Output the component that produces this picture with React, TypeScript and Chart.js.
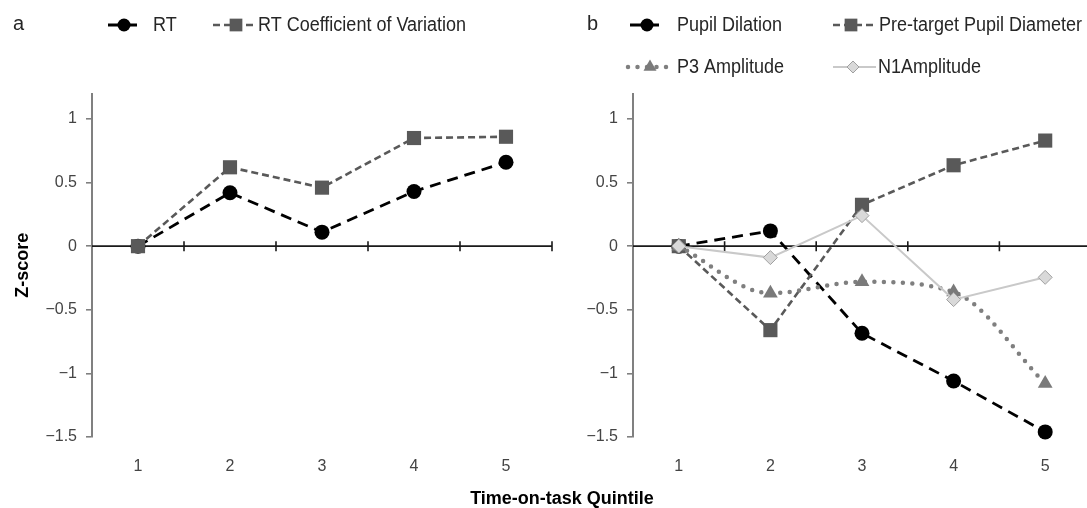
import React, { useEffect, useRef } from 'react';
import { Chart, registerables } from 'chart.js';

Chart.register(...registerables);

// ---------- data ----------
const quintiles = ['1', '2', '3', '4', '5'];
const yTicks = [-1.5, -1, -0.5, 0, 0.5, 1];
const yMin = -1.5;
const yMax = 1.2;

const rt = [0, 0.42, 0.11, 0.43, 0.66];
const rtCV = [0, 0.62, 0.46, 0.85, 0.86];

const pupilDilation = [0, 0.12, -0.685, -1.06, -1.46];
const preTargetDiameter = [0, -0.66, 0.325, 0.636, 0.83];
const p3Amplitude = [0, -0.37, -0.28, -0.36, -1.08];
const n1Amplitude = [0, -0.09, 0.24, -0.42, -0.245];

// ---------- styles ----------
const FONT = "'Liberation Sans', Arial, sans-serif";
const W = 1087;
const H = 508;

function drawMarker(ctx: CanvasRenderingContext2D, style: string, x: number, y: number, r: number, fill: string, stroke: string, bw: number) {
  ctx.save();
  ctx.beginPath();
  ctx.setLineDash([]);
  if (style === 'circle') {
    ctx.arc(x, y, r, 0, Math.PI * 2);
  } else if (style === 'rect') {
    const s = Math.SQRT1_2 * r;
    ctx.rect(x - s, y - s, 2 * s, 2 * s);
  } else if (style === 'triangle') {
    let a = 0;
    ctx.moveTo(x + Math.sin(a) * r, y - Math.cos(a) * r);
    a += (2 * Math.PI) / 3;
    ctx.lineTo(x + Math.sin(a) * r, y - Math.cos(a) * r);
    a += (2 * Math.PI) / 3;
    ctx.lineTo(x + Math.sin(a) * r, y - Math.cos(a) * r);
    ctx.closePath();
  } else if (style === 'rectRot') {
    ctx.moveTo(x - r, y);
    ctx.lineTo(x, y - r);
    ctx.lineTo(x + r, y);
    ctx.lineTo(x, y + r);
    ctx.closePath();
  }
  ctx.fillStyle = fill;
  ctx.fill();
  if (bw > 0) {
    ctx.lineWidth = bw;
    ctx.strokeStyle = stroke;
    ctx.stroke();
  }
  ctx.restore();
}

const zeroAxisPlugin = {
  id: 'zeroAxis',
  beforeDatasetsDraw(chart: any, _args: any, opts: any) {
    const { ctx, chartArea } = chart;
    const xs = chart.scales.x;
    const ys = chart.scales.y;
    const y0 = ys.getPixelForValue(0);
    const n = chart.data.labels.length;
    const half = (xs.getPixelForValue(1) - xs.getPixelForValue(0)) / 2;
    const right = xs.getPixelForValue(n - 1) + half;
    ctx.save();
    ctx.strokeStyle = opts.color;
    ctx.lineWidth = opts.width;
    ctx.beginPath();
    ctx.moveTo(chartArea.left, y0);
    ctx.lineTo(right + 0.75, y0);
    for (let i = 0; i < n; i++) {
      const bx = xs.getPixelForValue(i) + half;
      ctx.moveTo(bx, y0 - opts.tick);
      ctx.lineTo(bx, y0 + opts.tick);
    }
    ctx.stroke();
    ctx.restore();
  },
};

const panelLegendPlugin = {
  id: 'panelLegend',
  afterDraw(chart: any, _args: any, opts: any) {
    const { ctx } = chart;
    ctx.save();
    ctx.textBaseline = 'middle';
    ctx.textAlign = 'left';
    ctx.fillStyle = opts.color;
    ctx.font = opts.letterFont;
    ctx.fillText(opts.letter, opts.letterX, opts.letterY);
    opts.items.forEach((it: any) => {
      const ds = chart.data.datasets[it.index];
      ctx.save();
      ctx.strokeStyle = ds.borderColor;
      ctx.lineWidth = ds.borderWidth;
      ctx.setLineDash(ds.borderDash || []);
      ctx.lineCap = ds.borderCapStyle || 'butt';
      ctx.beginPath();
      ctx.moveTo(it.x0, it.y);
      ctx.lineTo(it.x1, it.y);
      ctx.stroke();
      ctx.restore();
      drawMarker(ctx, ds.pointStyle, it.mx, it.y, it.r, ds.pointBackgroundColor, ds.pointBorderColor, ds.pointBorderWidth);
      ctx.save();
      ctx.fillStyle = opts.color;
      ctx.font = opts.font;
      ctx.translate(it.tx, it.y);
      ctx.scale(opts.textScaleX, 1);
      ctx.fillText(ds.label, 0, 0);
      ctx.restore();
    });
    ctx.restore();
  },
};

const fmt = (v: number) => {
  const s = String(Math.abs(v));
  return v < 0 ? '\u2212' + s : s;
};

const blackDash = (label: string, data: number[]) => ({
  label,
  data,
  borderColor: '#000000',
  borderWidth: 2.8,
  borderDash: [11, 7],
  pointStyle: 'circle',
  pointRadius: 7.5,
  pointBackgroundColor: '#000000',
  pointBorderColor: '#000000',
  pointBorderWidth: 0,
  fill: false,
  tension: 0,
  clip: false,
});

const greySquare = (label: string, data: number[]) => ({
  label,
  data,
  borderColor: '#595959',
  borderWidth: 2.6,
  borderDash: [7, 4],
  pointStyle: 'rect',
  pointRadius: 10,
  pointBackgroundColor: '#595959',
  pointBorderColor: '#595959',
  pointBorderWidth: 0,
  fill: false,
  tension: 0,
  clip: false,
});

function makeConfig(panel: 'a' | 'b', canvasLeft: number, canvasWidth: number, plotLeft: number, plotRight: number) {
  const datasets: any[] =
    panel === 'a'
      ? [
          { ...blackDash('RT', rt), order: 1 },
          { ...greySquare('RT Coefficient of Variation', rtCV), order: 0 },
        ]
      : [
          { ...blackDash('Pupil Dilation', pupilDilation), order: 3 },
          { ...greySquare('Pre-target Pupil Diameter', preTargetDiameter), order: 2 },
          {
            label: 'P3 Amplitude',
            data: p3Amplitude,
            borderColor: '#7f7f7f',
            borderWidth: 4.5,
            borderDash: [0, 9.5],
            borderCapStyle: 'round',
            pointStyle: 'triangle',
            pointRadius: 8.5,
            pointBackgroundColor: '#7a7a7a',
            pointBorderColor: '#7a7a7a',
            pointBorderWidth: 0,
            fill: false,
            cubicInterpolationMode: 'monotone',
            clip: false,
            order: 1,
          },
          {
            label: 'N1Amplitude',
            data: n1Amplitude,
            borderColor: '#c9c9c9',
            borderWidth: 2,
            pointStyle: 'rectRot',
            pointRadius: 7,
            pointBackgroundColor: '#d9d9d9',
            pointBorderColor: '#a0a0a0',
            pointBorderWidth: 1,
            fill: false,
            tension: 0,
            clip: false,
            order: 0,
          },
        ];

  const L = (px: number) => px - canvasLeft;
  const legend =
    panel === 'a'
      ? {
          letter: 'a',
          letterX: L(13),
          letterY: 24,
          items: [
            { index: 0, x0: L(108), x1: L(139), mx: L(124), tx: L(153), y: 25, r: 6.5 },
            { index: 1, x0: L(213), x1: L(256), mx: L(236), tx: L(258), y: 25, r: 9 },
          ],
        }
      : {
          letter: 'b',
          letterX: L(587),
          letterY: 24,
          items: [
            { index: 0, x0: L(630), x1: L(664), mx: L(647), tx: L(677), y: 25, r: 6.5 },
            { index: 1, x0: L(833), x1: L(877), mx: L(851), tx: L(879), y: 25, r: 9 },
            { index: 2, x0: L(628), x1: L(671), mx: L(650), tx: L(677), y: 67, r: 7.5 },
            { index: 3, x0: L(833), x1: L(876), mx: L(853), tx: L(878), y: 67, r: 6 },
          ],
        };

  const yAxisWidth = plotLeft - canvasLeft;
  const padRight = canvasLeft + canvasWidth - plotRight;

  return {
    type: 'line',
    data: { labels: quintiles, datasets },
    plugins: [zeroAxisPlugin, panelLegendPlugin],
    options: {
      responsive: false,
      maintainAspectRatio: false,
      animation: false,
      devicePixelRatio: 1,
      layout: { padding: { top: 93.5, right: padRight, bottom: 0, left: 0 } },
      plugins: {
        legend: { display: false },
        tooltip: { enabled: false },
        title: { display: false },
        zeroAxis: { color: '#1a1a1a', width: 1.6, tick: 5 },
        panelLegend: {
          ...legend,
          color: '#262626',
          font: `20px ${FONT}`,
          textScaleX: 0.9,
          letterFont: `20px ${FONT}`,
        },
      },
      scales: {
        x: {
          type: 'category',
          offset: true,
          position: 'bottom',
          grid: { display: false, drawTicks: false },
          border: { display: false },
          ticks: { color: '#444444', font: { family: FONT, size: 16 }, padding: 20, maxRotation: 0 },
          afterFit: (s: any) => {
            s.height = H - 437;
          },
        },
        y: {
          type: 'linear',
          min: yMin,
          max: yMax,
          afterBuildTicks: (s: any) => {
            s.ticks = yTicks.map((v) => ({ value: v }));
          },
          afterFit: (s: any) => {
            s.width = yAxisWidth;
          },
          grid: { drawOnChartArea: false, drawTicks: true, tickLength: 6, color: '#808080', lineWidth: 1.6 },
          border: { display: true, color: '#808080', width: 2 },
          ticks: {
            color: '#444444',
            font: { family: FONT, size: 16 },
            padding: 9,
            callback: (v: any) => fmt(Number(v)),
          },
          title: {
            display: panel === 'a',
            text: 'Z-score',
            color: '#000000',
            font: { family: FONT, size: 18, weight: 'bold' },
            padding: { top: 12, bottom: 0 },
          },
        },
      },
    },
  };
}

export default function App() {
  const leftRef = useRef<HTMLCanvasElement | null>(null);
  const rightRef = useRef<HTMLCanvasElement | null>(null);

  const LEFT_CANVAS = { left: 0, width: 570 };
  const RIGHT_CANVAS = { left: 541, width: 560 };

  useEffect(() => {
    const charts: Chart[] = [];
    if (leftRef.current) {
      charts.push(new Chart(leftRef.current, makeConfig('a', LEFT_CANVAS.left, LEFT_CANVAS.width, 92, 552) as any));
    }
    if (rightRef.current) {
      charts.push(new Chart(rightRef.current, makeConfig('b', RIGHT_CANVAS.left, RIGHT_CANVAS.width, 633, 1098) as any));
    }
    return () => charts.forEach((c) => c.destroy());
  }, []);

  return (
    <div
      style={{
        position: 'absolute',
        left: 0,
        top: 0,
        width: W,
        height: H,
        overflow: 'hidden',
        background: '#ffffff',
      }}
    >
      <canvas
        ref={leftRef}
        width={LEFT_CANVAS.width}
        height={H}
        style={{ position: 'absolute', left: LEFT_CANVAS.left, top: 0, width: LEFT_CANVAS.width, height: H }}
      />
      <canvas
        ref={rightRef}
        width={RIGHT_CANVAS.width}
        height={H}
        style={{ position: 'absolute', left: RIGHT_CANVAS.left, top: 0, width: RIGHT_CANVAS.width, height: H }}
      />
      <div
        style={{
          position: 'absolute',
          left: 562,
          top: 487,
          transform: 'translateX(-50%)',
          whiteSpace: 'nowrap',
          fontFamily: FONT,
          fontWeight: 'bold',
          fontSize: 18,
          lineHeight: '22px',
          color: '#000000',
        }}
      >
        Time-on-task Quintile
      </div>
    </div>
  );
}
